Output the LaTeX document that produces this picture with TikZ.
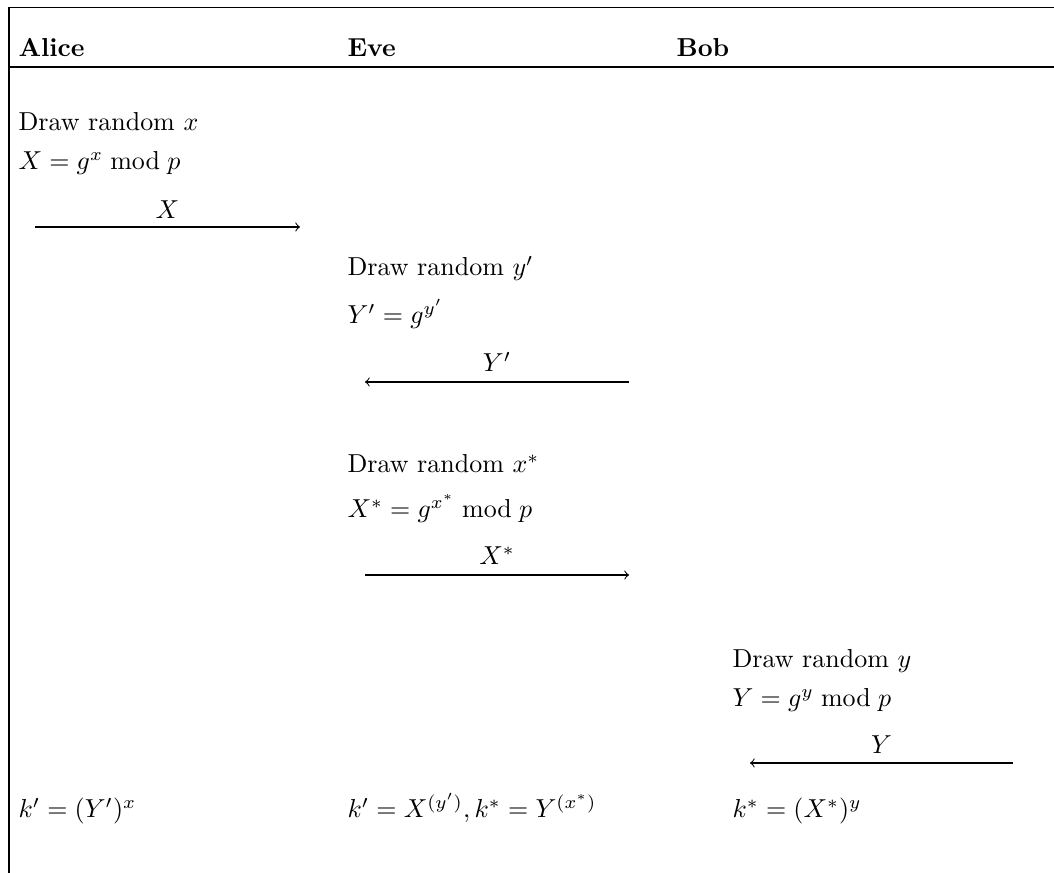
\documentclass[tikz,border=0pt]{standalone}
\begin{document}
\begin{tikzpicture}[x=0.385pt,y=-0.385pt,
  txt/.style={anchor=base west, inner sep=0pt},
  hdr/.style={anchor=base west, inner sep=0pt, font=\bfseries},
  lbl/.style={anchor=base, inner sep=0pt},
  msg/.style={->, line width=0.4pt},
  frame/.style={line width=0.4pt}]
\useasboundingbox (0,0) rectangle (1054,873);
% frame
\coordinate (tl) at (9,7.5);
\coordinate (tr) at (1054,7.5);
\coordinate (bl) at (9,873);
\coordinate (rl) at (9,67);
\coordinate (rr) at (1054,67);
\draw[frame] (tr) -- (tl) -- (bl);
\draw[frame] (rl) -- (rr);
% headers
\node[hdr] (alice) at (18,57) {Alice};
\node[hdr] (eve) at (347,57) {Eve};
\node[hdr] (bob) at (676,57) {Bob};
% Alice
\node[txt] (a1) at (18,131) {Draw random $x$};
\node[txt] (a2) at (18,170) {$X = g^x \bmod p$};
\coordinate (x1) at (35,227);
\coordinate (x2) at (300,227);
\draw[msg] (x1) -- (x2);
\node[lbl] (lx) at (167.5,219) {$X$};
% Eve
\node[txt] (e1) at (347,276) {Draw random $y'$};
\node[txt] (e2) at (347,324) {$Y' = g^{y'}$};
\coordinate (y1) at (629,382);
\coordinate (y2) at (365,382);
\draw[msg] (y1) -- (y2);
\node[lbl] (ly) at (497,372) {$Y'$};
\node[txt] (e3) at (347,473) {Draw random $x^*$};
\node[txt] (e4) at (347,518) {$X^* = g^{x^*} \bmod p$};
\coordinate (s1) at (365,575);
\coordinate (s2) at (629,575);
\draw[msg] (s1) -- (s2);
\node[lbl] (ls) at (497,565) {$X^*$};
% Bob
\node[txt] (b1) at (732,668) {Draw random $y$};
\node[txt] (b2) at (732,707) {$Y = g^y \bmod p$};
\coordinate (t1) at (1013,763);
\coordinate (t2) at (750,763);
\draw[msg] (t1) -- (t2);
\node[lbl] (lt) at (881.5,754) {$Y$};
% keys
\node[txt] (ka) at (18,818) {$k' = (Y')^x$};
\node[txt] (ke) at (347,818) {$k' = X^{(y')}, k^* = Y^{(x^*)}$};
\node[txt] (kb) at (732,818) {$k^* = (X^*)^y$};
\end{tikzpicture}
\end{document}
